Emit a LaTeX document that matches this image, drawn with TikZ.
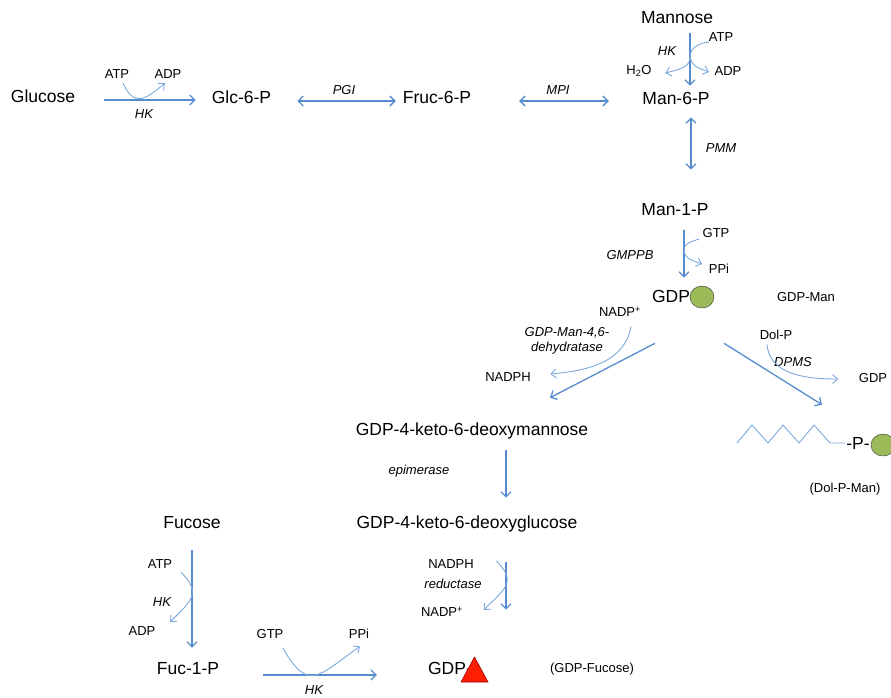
\documentclass[tikz,border=0pt]{standalone}
\usepackage{fontspec}
\setmainfont{Liberation Sans}
\usetikzlibrary{calc}
\usetikzlibrary{arrows.meta}
\usetikzlibrary{shapes.geometric}
\definecolor{pathblue}{RGB}{86,140,205}
\definecolor{sideblue}{RGB}{125,168,220}
\definecolor{mangreen}{RGB}{155,187,89}
\definecolor{fucred}{RGB}{255,30,0}
\tikzstyle{metabolite}=[font=\fontsize{17.5}{21}\selectfont, inner sep=2pt, text height=12.5pt, text depth=3.7pt]
\tikzstyle{cofactor}=[font=\fontsize{13}{15}\selectfont, inner sep=1.5pt]
\tikzstyle{enzyme}=[font=\fontsize{13}{15}\selectfont\itshape, inner sep=1.5pt]
\tikzstyle{reaction}=[draw=pathblue, line width=1.3pt, -{Straight Barb[length=5pt,width=10pt]}]
\tikzstyle{reversible}=[draw=pathblue, line width=1.3pt, {Straight Barb[length=5pt,width=10pt]}-{Straight Barb[length=5pt,width=10pt]}]
\tikzstyle{side reaction}=[draw=sideblue, line width=0.9pt, -{Straight Barb[length=5pt,width=9pt]}]
\tikzstyle{mannose unit}=[ellipse, draw=black!80, fill=mangreen, minimum width=24pt, minimum height=22pt, inner sep=0]

\begin{document}
\begin{tikzpicture}[x=1pt, y=-1pt]
      \useasboundingbox (0,0) rectangle (891,697);
      \clip (0,0) rectangle (891,697);

      % upper row
      \node[metabolite] (glucose) at (43,98) {Glucose};
      \node[metabolite] (glc6p) at (241.5,99) {Glc-6-P};
      \node[metabolite] (fruc6p) at (437,99) {Fruc-6-P};
      \node[metabolite] (man6p) at (676,100) {Man-6-P};
      \node[metabolite] (mannose) at (677,19) {Mannose};
      \node[metabolite] (man1p) at (675,211) {Man-1-P};

      \node[cofactor] (atp_a) at (117,74) {ATP};
      \node[cofactor] (adp_a) at (168,74) {ADP};
      \node[enzyme] (hk_a) at (144,114) {HK};
      \node[enzyme] (pgi) at (344,90) {PGI};
      \node[enzyme] (mpi) at (558,90) {MPI};

      \node[cofactor] (atp_b) at (721,37) {ATP};
      \node[enzyme] (hk_b) at (667,51) {HK};
      \node[cofactor] (h2o) at (639,71) {H\textsubscript{2}O};
      \node[cofactor] (adp_b) at (728,71) {ADP};
      \node[enzyme] (pmm) at (721,148) {PMM};

      \node[cofactor] (gtp_a) at (716,233) {GTP};
      \node[cofactor] (ppi_a) at (719,269) {PPi};
      \node[enzyme] (gmppb) at (630,255) {GMPPB};

      % GDP-mannose
      \node[metabolite] (gdpman) at (674,298) {GDP-};
      \node[mannose unit] (man_a) at (702,297) {};
      \node[cofactor] (gdpman_lbl) at (806,297) {GDP-Man};

      \node[cofactor] (nadp_a) at (620,312) {NADP\textsuperscript{+}};
      \node[enzyme, align=center] (dehydratase) at (567,341) {GDP-Man-4,6-\\dehydratase};
      \node[cofactor] (nadph_a) at (508,377) {NADPH};

      \node[cofactor] (dolp) at (776,335) {Dol-P};
      \node[enzyme] (dpms) at (793,362) {DPMS};
      \node[cofactor] (gdp_a) at (873,378) {GDP};

      % Dol-P-Man
      \node[metabolite] (dolpman) at (858,445) {-P-};
      \node[mannose unit] (man_b) at (883,445) {};
      \node[cofactor] (dolpman_lbl) at (845,489) {(Dol-P-Man)};
      \draw[sideblue, line width=0.9pt] (737,443) -- (752,425) -- (768,443) -- (783,425)
            -- (799,443) -- (814,425) -- (830,443) -- ($(dolpman.west)+(1,-2)$);

      % GDP-fucose branch
      \node[metabolite] (keto_man) at (472,431) {GDP-4-keto-6-deoxymannose};
      \node[enzyme] (epimerase) at (419,471) {epimerase};
      \node[metabolite] (keto_glc) at (467,524) {GDP-4-keto-6-deoxyglucose};
      \node[cofactor] (nadph_b) at (451,564) {NADPH};
      \node[enzyme] (reductase) at (453,584) {reductase};
      \node[cofactor] (nadp_b) at (442,612) {NADP\textsuperscript{+}};

      \node[metabolite] (gdpfuc) at (450,670) {GDP-};
      \filldraw[fill=fucred, draw=red!60!black, line width=0.6pt] (461,682) -- (474.5,657) -- (488,682) -- cycle;
      \node[cofactor] (gdpfuc_lbl) at (592,669) {(GDP-Fucose)};

      % salvage pathway
      \node[metabolite] (fucose) at (192,524) {Fucose};
      \node[metabolite] (fuc1p) at (188,670) {Fuc-1-P};
      \node[cofactor] (atp_c) at (160,564) {ATP};
      \node[enzyme] (hk_c) at (162,602) {HK};
      \node[cofactor] (adp_c) at (142,631) {ADP};
      \node[cofactor] (gtp_b) at (270,634) {GTP};
      \node[cofactor] (ppi_b) at (359,634) {PPi};
      \node[enzyme] (hk_d) at (314,690) {HK};

      % main reactions
      \draw[reaction] ($(glucose.east)+(27,2)$) to ($(glc6p.west)+(-14,1)$);
      \draw[reversible] ($(glc6p.east)+(24,2)$) to ($(fruc6p.west)+(-5,2)$);
      \draw[reversible] ($(fruc6p.east)+(46,2)$) to ($(man6p.west)+(-31.5,1)$);
      \draw[reaction] ($(mannose.south)+(13,4)$) to ($(man6p.north)+(14,-4)$);
      \draw[reversible] ($(man6p.south)+(15,7)$) to ($(man1p.north)+(16,-31)$);
      \draw[reaction] ($(man1p.south)+(9,9)$) to ($(gdpman.north)+(10,-10)$);
      \draw[reaction] ($(gdpman.south)+(-19,35)$) to ($(keto_man.north)+(78,-23)$);
      \draw[reaction] ($(gdpman.south)+(50,35)$) to ($(dolpman.north)+(-36,-30)$);
      \draw[reaction] ($(keto_man.south)+(34,9)$) to ($(keto_glc.north)+(39,-16)$);
      \draw[reaction] ($(keto_glc.south)+(39,28)$) to ($(gdpfuc.north)+(56,-50)$);
      \draw[reaction] ($(fucose.south)+(0,16)$) to ($(fuc1p.north)+(4,-12)$);
      \draw[reaction] ($(fuc1p.east)+(42,5)$) to ($(gdpfuc.west)+(-49,5)$);

      % cosubstrates
      \draw[side reaction] ($(atp_a.south)+(6,3)$) to[out=-65, in=-140, looseness=1.6] ($(adp_a.south)+(-3,3)$);
      \draw[side reaction] ($(atp_b.west)+(2,5)$) to[out=185, in=90] (690,57) to[out=-90, in=15] ($(h2o.east)+(12,2)$);
      \draw[side reaction] (690,57) to[out=-80, in=160] ($(adp_b.west)+(-4,1)$);
      \draw[side reaction] ($(gtp_a.west)+(-2,6)$) to[out=200, in=90] (684,250) to[out=-90, in=160] ($(ppi_a.west)+(-5,-5)$);
      \draw[side reaction] ($(nadp_a.south)+(11,8)$) to[out=-100, in=5] ($(nadph_a.east)+(18,-3)$);
      \draw[side reaction] ($(dolp.south)+(-9,3)$) to[out=-85, in=180] ($(gdp_a.west)+(-19,1)$);
      \draw[side reaction] ($(nadph_b.east)+(21,-3)$) to[out=-45, in=45, looseness=1.5] ($(nadp_b.east)+(19,-2)$);
      \draw[side reaction] ($(atp_c.south)+(21,2)$) to[out=-45, in=45, looseness=1.5] ($(adp_c.east)+(13,-9)$);
      \draw[side reaction] ($(gtp_b.south)+(13,8)$) to[out=-60, in=-145, looseness=1.7] ($(ppi_b.south)+(1,6)$);
\end{tikzpicture}
\end{document}
